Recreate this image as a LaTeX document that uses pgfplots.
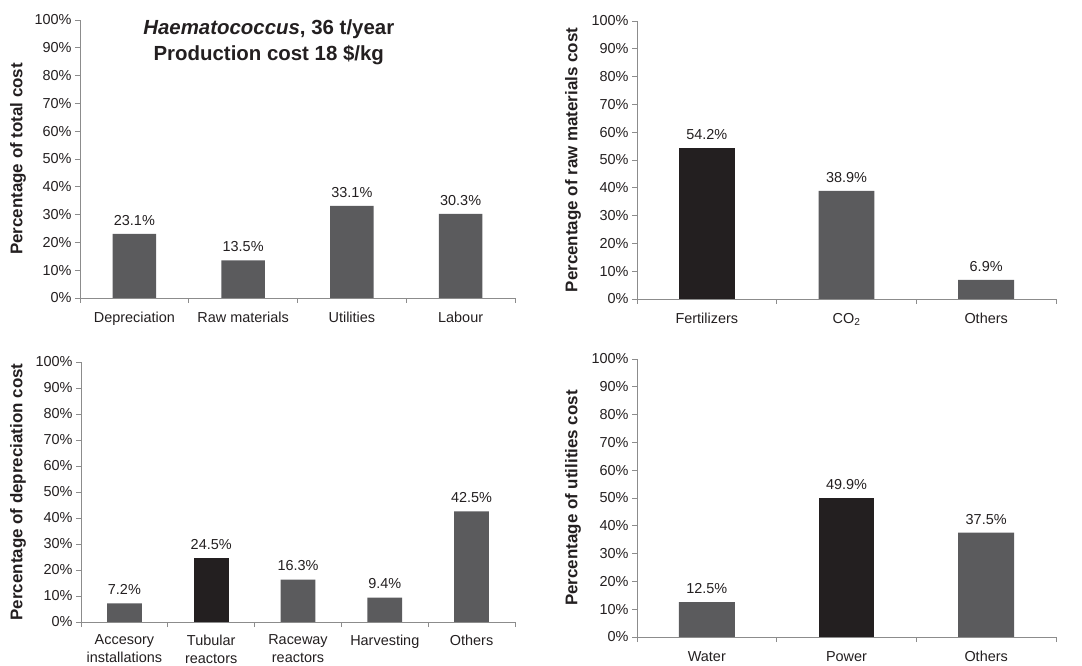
\documentclass[border=0pt]{standalone}
\usepackage{fontspec}
\setmainfont{Liberation Sans}
\usepackage{pgfplots}
\pgfplotsset{compat=1.18}
\definecolor{bargray}{HTML}{5B5B5D}
\definecolor{barblack}{HTML}{231F20}
\definecolor{axgray}{HTML}{8C8C8C}
\definecolor{txt}{HTML}{231F20}
\pgfplotsset{
 panel/.style={
  scale only axis, anchor=south west,
  ymin=0, ymax=100, ytick={0,10,...,100},
  yticklabels={0\%,10\%,20\%,30\%,40\%,50\%,60\%,70\%,80\%,90\%,100\%},
  axis x line*=bottom, axis y line*=left,
  axis line style={axgray, -, line width=0.8bp},
  tick align=outside,
  major tick length=5bp, minor tick length=5bp,
  tick style={axgray, line width=0.8bp},
  major x tick style={draw=none},
  tick label style={font=\fontsize{14.5}{17}\selectfont, text=txt},
  xticklabel style={yshift=-6bp},
  ylabel style={font=\bfseries\fontsize{17}{20}\selectfont, text=txt, anchor=center},
  ybar, bar width=0.4, bar shift=0pt,
  every axis plot/.append style={fill, draw=none},
  nodes near coords={\pgfmathprintnumber[fixed,precision=1,fixed zerofill]{\pgfplotspointmeta}\%},
  nodes near coords style={font=\fontsize{14.5}{17}\selectfont, text=txt, yshift=5bp},
  /pgf/number format/assume math mode=true,
 }
}
\begin{document}
\begin{tikzpicture}
\useasboundingbox (0,0) rectangle (1082bp,666bp);
% Panel 1
\begin{axis}[panel, at={(80bp,368bp)}, width=435bp, height=278bp,
  xmin=-0.5, xmax=3.5, xtick={0,1,2,3},
  xticklabels={Depreciation,Raw materials,Utilities,Labour},
  minor xtick={-0.5,0.5,1.5,2.5,3.5},
  ylabel={Percentage of total cost},
  ylabel style={at={(axis description cs:-0.1425,0.5)}}]
\addplot[bargray] coordinates {(0,23.1) (1,13.5) (2,33.1) (3,30.3)};
\node[anchor=north, align=center, inner sep=0pt, font=\bfseries\fontsize{20.5}{26}\selectfont, text=txt] at (rel axis cs:0.434,1) {\textit{Haematococcus}, 36 t/year\\Production cost 18 \$/kg};
\end{axis}
% Panel 2
\begin{axis}[panel, at={(637bp,367bp)}, width=419bp, height=278bp,
  xmin=-0.5, xmax=2.5, xtick={0,1,2},
  xticklabels={Fertilizers,CO\textsubscript{2},Others},
  minor xtick={-0.5,0.5,1.5,2.5},
  ylabel={Percentage of raw materials cost},
  ylabel style={at={(axis description cs:-0.1527,0.5)}}]
\addplot[barblack] coordinates {(0,54.2)};
\addplot[bargray] coordinates {(1,38.9) (2,6.9)};
\end{axis}
% Panel 3
\begin{axis}[panel, at={(81bp,44bp)}, width=434bp, height=260bp,
  xmin=-0.5, xmax=4.5, xtick={0,1,2,3,4},
  xticklabels={{Accesory\\installations},{Tubular\\reactors},{Raceway\\reactors},Harvesting,Others},
  xticklabel style={align=center, font=\fontsize{14.5}{18}\selectfont, yshift=1.5bp},
  minor xtick={-0.5,0.5,1.5,2.5,3.5,4.5},
  ylabel={Percentage of depreciation cost},
  ylabel style={at={(axis description cs:-0.1452,0.5)}}]
\addplot[bargray] coordinates {(0,7.2) (2,16.3) (3,9.4) (4,42.5)};
\addplot[barblack] coordinates {(1,24.5)};
\end{axis}
% Panel 4
\begin{axis}[panel, at={(637bp,29bp)}, width=419bp, height=278bp,
  xmin=-0.5, xmax=2.5, xtick={0,1,2},
  xticklabels={Water,Power,Others},
  minor xtick={-0.5,0.5,1.5,2.5},
  ylabel={Percentage of utilities cost},
  ylabel style={at={(axis description cs:-0.1527,0.5)}}]
\addplot[bargray] coordinates {(0,12.5) (2,37.5)};
\addplot[barblack] coordinates {(1,49.9)};
\end{axis}
\end{tikzpicture}
\end{document}
